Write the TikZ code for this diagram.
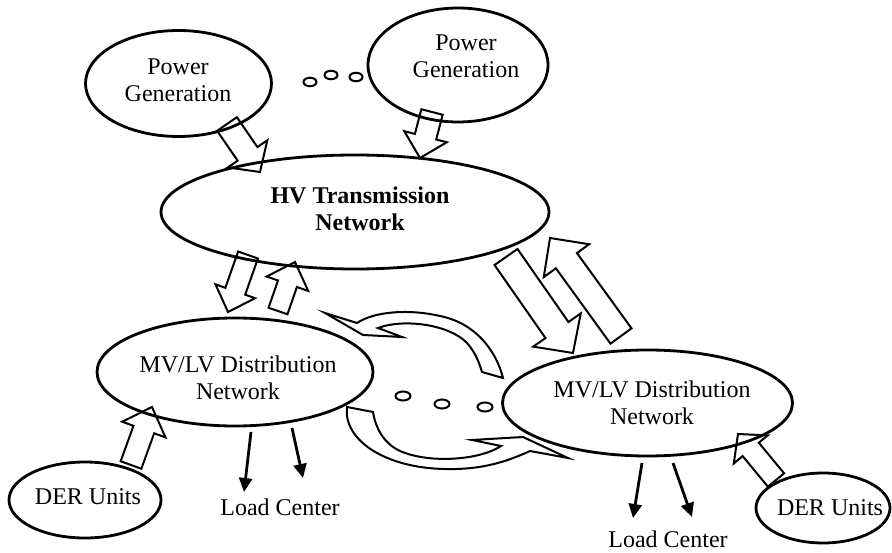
\documentclass[tikz,border=0pt]{standalone}
\usepackage{fontspec}
\setmainfont{Liberation Serif}
\usetikzlibrary{shapes.geometric,calc,arrows.meta}
\newcommand{\barr}[5]{%
  \coordinate (bhead) at ($(#2)!#5!(#1)$);
  \draw[barrow] ($(#1)!#3!90:(#2)$) -- ($(bhead)!#3!90:(#2)$) -- ($(bhead)!#4!90:(#2)$)
    -- (#2) -- ($(bhead)!#4!-90:(#2)$) -- ($(bhead)!#3!-90:(#2)$) -- ($(#1)!#3!-90:(#2)$) -- cycle;
}
\begin{document}
\begin{tikzpicture}[x=1pt,y=-1pt,
  ell/.style={ellipse,draw,line width=2.8pt,inner sep=0pt},
  lbl/.style={font=\fontsize{24}{27}\selectfont,align=center,inner sep=0pt},
  barrow/.style={draw,line width=2pt,fill=white,line join=miter},
  dotsm/.style={ellipse,draw,line width=2pt,minimum width=13pt,minimum height=8.5pt,inner sep=0pt},
  dotlg/.style={ellipse,draw,line width=2pt,minimum width=15pt,minimum height=9pt,inner sep=0pt},
  load/.style={line width=2.8pt,-{Triangle[length=14pt,width=13pt]}}]
\useasboundingbox (0,0) rectangle (892,553);

% arrow end coordinates
\coordinate (a1t) at (227,124); \coordinate (a1h) at (260,172);
\coordinate (a2t) at (432,112); \coordinate (a2h) at (420,158);
\coordinate (a3t) at (248,255); \coordinate (a3h) at (228,312);
\coordinate (a4t) at (278,311); \coordinate (a4h) at (295,262);
\coordinate (a5t) at (506,257); \coordinate (a5h) at (573,353);
\coordinate (a6t) at (621,336); \coordinate (a6h) at (550,238);
\coordinate (a7t) at (131,465); \coordinate (a7h) at (152,407);
\coordinate (a8t) at (776,480); \coordinate (a8h) at (738,434);

% block arrows
\barr{a1t}{a1h}{12pt}{24pt}{22pt}
\barr{a2t}{a2h}{11pt}{22pt}{22pt}
\barr{a3t}{a3h}{10.5pt}{21pt}{22pt}
\barr{a4t}{a4h}{10pt}{22pt}{23pt}
\barr{a5t}{a5h}{14pt}{29pt}{28pt}
\barr{a6t}{a6h}{13pt}{28pt}{28pt}
\barr{a7t}{a7h}{11pt}{23pt}{24pt}
\barr{a8t}{a8h}{10.5pt}{22pt}{20pt}

% curved arrows
\draw[barrow] (503,378) .. controls (496,350) and (475,323) .. (440,316)
  .. controls (410,309) and (375,311) .. (357,323) -- (325,313) -- (363,335) -- (402,337) -- (378,328)
  .. controls (405,318) and (450,325) .. (467,343) .. controls (475,352) and (479,362) .. (482,372) -- cycle;
\draw[barrow] (347,407) .. controls (343,440) and (385,468) .. (445,469)
  .. controls (485,470) and (510,460) .. (530,451) -- (568,458) -- (523,437) -- (472,440) -- (501,446)
  .. controls (480,460) and (430,464) .. (400,451) .. controls (385,444) and (376,430) .. (373,412) -- cycle;

% ellipses
\node[ell,minimum width=186pt,minimum height=106pt] (pg1) at (178.5,83.5) {};
\node[ell,minimum width=180pt,minimum height=114pt] (pg2) at (458,65) {};
\node[ell,minimum width=388pt,minimum height=114pt] (hv) at (355,212) {};
\node[ell,minimum width=276pt,minimum height=108pt] (mvl) at (235,372) {};
\node[ell,minimum width=290pt,minimum height=106pt] (mvr) at (647.5,403) {};
\node[ell,minimum width=152pt,minimum height=76pt] (derl) at (85,500) {};
\node[ell,minimum width=134pt,minimum height=70pt] (derr) at (823,508) {};

% texts
\node[lbl] (pg1t) at (178,80) {Power\\Generation};
\node[lbl] (pg2t) at (466,56) {Power\\Generation};
\node[lbl,font=\fontsize{24}{27}\selectfont\bfseries] (hvt) at (360,209) {HV Transmission\\Network};
\node[lbl] (mvlt) at (238,378) {MV/LV Distribution\\Network};
\node[lbl] (mvrt) at (652,403) {MV/LV Distribution\\Network};
\node[lbl] (derlt) at (88,497) {DER Units};
\node[lbl] (derrt) at (830,508) {DER Units};
\node[lbl] (lc1) at (280,507) {Load Center};
\node[lbl] (lc2) at (668,539) {Load Center};

% dots
\node[dotsm] (d1) at (310,82) {};
\node[dotsm] (d2) at (331,75) {};
\node[dotsm] (d3) at (356,77) {};
\node[dotlg] (d4) at (403,396) {};
\node[dotlg] (d5) at (442,404) {};
\node[dotlg] (d6) at (485,407) {};

% load arrows
\coordinate (l1s) at (251,432); \coordinate (l1e) at (244,492);
\coordinate (l2s) at (292,428); \coordinate (l2e) at (303,478);
\coordinate (l3s) at (642,463); \coordinate (l3e) at (633,518);
\coordinate (l4s) at (673,463); \coordinate (l4e) at (692,517);
\draw[load] (l1s) -- (l1e);
\draw[load] (l2s) -- (l2e);
\draw[load] (l3s) -- (l3e);
\draw[load] (l4s) -- (l4e);
\end{tikzpicture}
\end{document}
